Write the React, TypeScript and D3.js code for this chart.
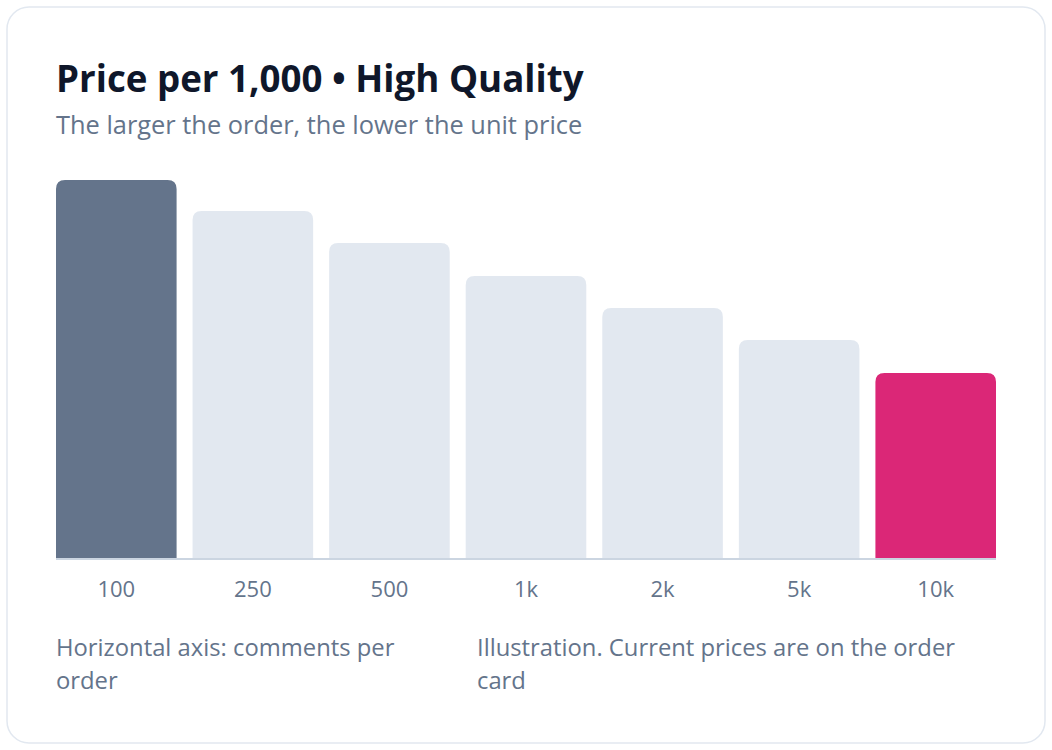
import { useMemo } from 'react';
import * as d3 from 'd3';

// Order sizes (comments per order) and relative price per 1,000
const tiers = ['100', '250', '500', '1k', '2k', '5k', '10k'];
const prices = [3.78, 3.47, 3.15, 2.82, 2.5, 2.18, 1.85];
const highlight = ['base', 'muted', 'muted', 'muted', 'muted', 'muted', 'accent'];

const title = 'Price per 1,000 • High Quality';
const subtitle = 'The larger the order, the lower the unit price';
const noteLeft = ['Horizontal axis: comments per', 'order'];
const noteRight = ['Illustration. Current prices are on the order', 'card'];

const W = 1052;
const H = 750;
const FONT = '"Open Sans", "Noto Sans", sans-serif';

const fills: Record<string, string> = {
  base: '#64748b',
  muted: '#e2e8f0',
  accent: '#db2777',
};

// bar path with rounded top corners only
function topRounded(x: number, y: number, w: number, h: number, r: number) {
  const rr = Math.min(r, w / 2, h);
  return `M${x},${y + h}V${y + rr}Q${x},${y} ${x + rr},${y}H${x + w - rr}Q${x + w},${y} ${x + w},${y + rr}V${y + h}Z`;
}

export default function App() {
  const margin = { left: 56, right: 56, top: 180, bottom: 558 };

  const x = useMemo(
    () => d3.scaleBand<string>().domain(tiers).range([margin.left, W - margin.right]).paddingInner(0.117).paddingOuter(0),
    []
  );
  const y = useMemo(
    () => d3.scaleLinear().domain([0, d3.max(prices)!]).range([margin.bottom, margin.top]),
    []
  );

  return (
    <svg width={W} height={H} style={{ position: 'absolute', left: 0, top: 0, fontFamily: FONT }}>
      <rect x={7} y={7} width={W - 14} height={H - 14} rx={22} fill="#ffffff" stroke="#e2e8f0" strokeWidth={1.5} />

      <text x={56} y={92} fontSize={36.7} fontWeight={700} fill="#0f172a">
        {title}
      </text>
      <text x={56} y={134} fontSize={25.4} fill="#64748b">
        {subtitle}
      </text>

      {tiers.map((t, i) => {
        const bx = x(t)!;
        const by = y(prices[i]);
        return (
          <path
            key={t}
            d={topRounded(bx, by, x.bandwidth(), y(0) - by, 9)}
            fill={fills[highlight[i]]}
          />
        );
      })}

      <line x1={56} x2={W - 56} y1={y(0) + 1} y2={y(0) + 1} stroke="#cbd5e1" strokeWidth={2} />

      {tiers.map((t) => (
        <text
          key={t}
          x={x(t)! + x.bandwidth() / 2}
          y={597}
          textAnchor="middle"
          fontSize={22}
          fill="#64748b"
        >
          {t}
        </text>
      ))}

      <text x={56} y={656} fontSize={23.8} fill="#64748b">
        {noteLeft.map((l, i) => (
          <tspan key={i} x={56} dy={i === 0 ? 0 : 33}>
            {l}
          </tspan>
        ))}
      </text>
      <text x={477} y={656} fontSize={23.8} fill="#64748b">
        {noteRight.map((l, i) => (
          <tspan key={i} x={477} dy={i === 0 ? 0 : 33}>
            {l}
          </tspan>
        ))}
      </text>
    </svg>
  );
}
